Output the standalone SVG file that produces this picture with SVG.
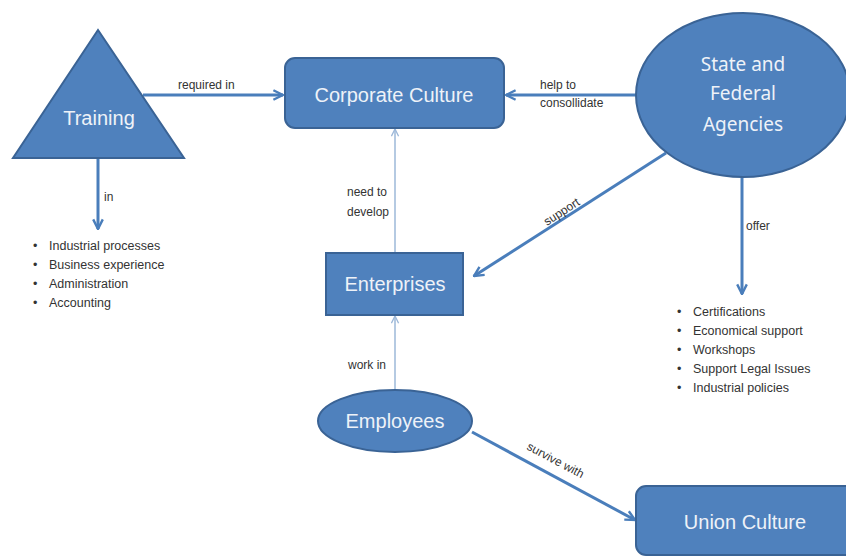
<svg xmlns="http://www.w3.org/2000/svg" width="846" height="557" viewBox="0 0 846 557">
<style>
.node{fill:#4F81BD;stroke:#3A6395;stroke-width:2}
.nt{fill:#EEF2F8;font-family:"Liberation Sans",Arial,sans-serif;font-size:20px;text-anchor:middle}
.nt2{fill:#EEF2F8;font-family:"Noto Sans","Open Sans",sans-serif;font-size:19px;text-anchor:middle}
.lbl{fill:#333;font-family:"Liberation Sans",Arial,sans-serif;font-size:12px}
.li{fill:#333;font-family:"Liberation Sans",Arial,sans-serif;font-size:12.5px}
.c{fill:none;stroke:#4A7EBB;stroke-width:3}
.cl{fill:none;stroke:#9DB8D9;stroke-width:1.5}
</style>
<defs>
<marker id="ah" viewBox="0 0 10 10" refX="9" refY="5" markerWidth="4" markerHeight="4" orient="auto" markerUnits="strokeWidth">
<path d="M1,1 L9,5 L1,9" fill="none" stroke="#4A7EBB" stroke-width="2"/>
</marker>
<marker id="ahl" viewBox="0 0 10 10" refX="9" refY="5" markerWidth="6" markerHeight="6" orient="auto" markerUnits="strokeWidth">
<path d="M1,1 L9,5 L1,9" fill="none" stroke="#9DB8D9" stroke-width="1.5"/>
</marker>
</defs>
<rect width="846" height="557" fill="#fff"/>
<g id="connectors">
<line class="c" x1="143" y1="95" x2="283" y2="95" marker-end="url(#ah)"/>
<line class="c" x1="637" y1="95" x2="506" y2="95" marker-end="url(#ah)"/>
<line class="c" x1="98" y1="158" x2="98" y2="229" marker-end="url(#ah)"/>
<line class="c" x1="666" y1="153" x2="474" y2="276" marker-end="url(#ah)"/>
<line class="c" x1="742" y1="176" x2="742" y2="294" marker-end="url(#ah)"/>
<line class="c" x1="472" y1="432" x2="635" y2="520" marker-end="url(#ah)"/>
<line class="cl" x1="395" y1="253" x2="395" y2="129" marker-end="url(#ahl)"/>
<line class="cl" x1="395" y1="390" x2="395" y2="316" marker-end="url(#ahl)"/>
<text class="lbl" x="178" y="89">required in</text>
<text class="lbl" x="540" y="89">help to</text>
<text class="lbl" x="540" y="107">consollidate</text>
<text class="lbl" x="104" y="201">in</text>
<text class="lbl" x="347" y="196">need to</text>
<text class="lbl" x="347" y="216">develop</text>
<text class="lbl" x="746" y="230">offer</text>
<text class="lbl" x="348" y="369">work in</text>
<text class="lbl" transform="translate(547,226) rotate(-33)">support</text>
<text class="lbl" transform="translate(526,449) rotate(28)">survive with</text>
</g>
<g id="training">
<polygon class="node" points="98,30 13,158 184,158"/>
<text class="nt" x="99" y="125">Training</text>
</g>
<g id="corporate-culture">
<rect class="node" x="285" y="58" width="219" height="70" rx="10"/>
<text class="nt" x="394" y="102" font-size="21">Corporate Culture</text>
</g>
<g id="agencies">
<ellipse class="node" cx="743" cy="95" rx="107" ry="82"/>
<text class="nt2" x="743" y="71">State and</text>
<text class="nt2" x="743" y="100">Federal</text>
<text class="nt2" x="743" y="131">Agencies</text>
</g>
<g id="enterprises">
<rect class="node" x="326" y="253" width="137" height="62"/>
<text class="nt" x="395" y="291">Enterprises</text>
</g>
<g id="employees">
<ellipse class="node" cx="395" cy="421" rx="77" ry="31"/>
<text class="nt" x="395" y="428">Employees</text>
</g>
<g id="union-culture">
<rect class="node" x="636" y="486" width="220" height="69" rx="10"/>
<text class="nt" x="745" y="529">Union Culture</text>
</g>
<g id="training-list">
<text class="li" x="33" y="250">•</text><text class="li" x="49" y="250">Industrial processes</text>
<text class="li" x="33" y="269">•</text><text class="li" x="49" y="269">Business experience</text>
<text class="li" x="33" y="288">•</text><text class="li" x="49" y="288">Administration</text>
<text class="li" x="33" y="307">•</text><text class="li" x="49" y="307">Accounting</text>
</g>
<g id="agency-list">
<text class="li" x="677" y="316">•</text><text class="li" x="693" y="316">Certifications</text>
<text class="li" x="677" y="335">•</text><text class="li" x="693" y="335">Economical support</text>
<text class="li" x="677" y="354">•</text><text class="li" x="693" y="354">Workshops</text>
<text class="li" x="677" y="373">•</text><text class="li" x="693" y="373">Support Legal Issues</text>
<text class="li" x="677" y="392">•</text><text class="li" x="693" y="392">Industrial policies</text>
</g>
</svg>
